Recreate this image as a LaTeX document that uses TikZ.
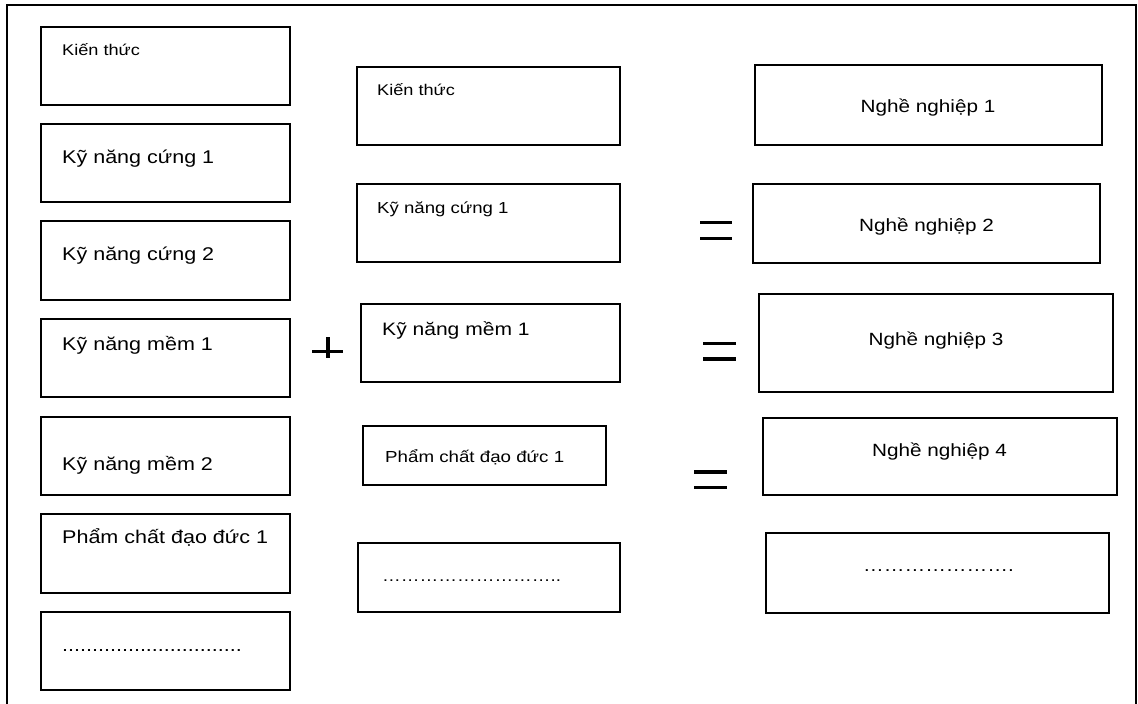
\documentclass[tikz,border=0pt]{standalone}
\usepackage{fontspec}
\newfontfamily\af[FakeStretch=1.17]{Liberation Sans}
\newcommand{\fs}[1]{\af\fontsize{#1}{#1}\selectfont}
\newcommand{\bx}[5]{\node[box, minimum width={#4-#2}, minimum height={#5-#3}] (#1) at ({(#2+#4)/2},{(#3+#5)/2}) {};}
\tikzset{
  box/.style={draw, line width=1.5pt, rectangle, inner sep=0pt, outer sep=0pt},
  lt/.style={inner sep=0pt, anchor=base west},
  ct/.style={inner sep=0pt, anchor=base},
  bar/.style={fill=black, draw=none},
}
\begin{document}
\begin{tikzpicture}[x=1pt,y=-1pt]
\useasboundingbox (0,0) rectangle (1138,704);
\clip (0,0) rectangle (1138,704);
\draw[line width=1.5pt] (7,5) rectangle (1136,712);
% left column
\bx{L1}{41}{27}{290}{105}
\bx{L2}{41}{124}{290}{202}
\bx{L3}{41}{221}{290}{300}
\bx{L4}{41}{319}{290}{397}
\bx{L5}{41}{417}{290}{495}
\bx{L6}{41}{514}{290}{593}
\bx{L7}{41}{612}{290}{690}
\node[lt, font=\fs{15.5}] (L1t) at (62,55) {Kiến thức};
\node[lt, font=\fs{18.4}] (L2t) at (62,163) {Kỹ năng cứng 1};
\node[lt, font=\fs{18.4}] (L3t) at (62,260) {Kỹ năng cứng 2};
\node[lt, font=\fs{18.4}] (L4t) at (62,350) {Kỹ năng mềm 1};
\node[lt, font=\fs{18.4}] (L5t) at (62,470) {Kỹ năng mềm 2};
\node[lt, font=\fs{18.4}] (L6t) at (62,543) {Phẩm chất đạo đức 1};
\node[lt, font=\fs{18.4}] (L7t) at (62,651.5) {..............................};
% middle column
\bx{M1}{357}{67}{620}{145}
\bx{M2}{357}{184}{620}{262}
\bx{M3}{361}{304}{620}{382}
\bx{M4}{363}{426}{606}{485}
\bx{M5}{358}{543}{620}{612}
\node[lt, font=\fs{15.5}] (M1t) at (377,95) {Kiến thức};
\node[lt, font=\fs{15.9}] (M2t) at (377,213) {Kỹ năng cứng 1};
\node[lt, font=\fs{18}] (M3t) at (382,335) {Kỹ năng mềm 1};
\node[lt, font=\fs{16}] (M4t) at (385,462) {Phẩm chất đạo đức 1};
\node[lt, font=\fs{16}] (M5t) at (382,581) {………………………..};
% right column
\bx{R1}{755}{65}{1102}{145}
\bx{R2}{753}{184}{1100}{263}
\bx{R3}{759}{294}{1113}{392}
\bx{R4}{763}{418}{1117}{495}
\bx{R5}{766}{533}{1109}{613}
\node[ct, font=\fs{17.7}] (R1t) at (928,112) {Nghề nghiệp 1};
\node[ct, font=\fs{17.7}] (R2t) at (926.5,231) {Nghề nghiệp 2};
\node[ct, font=\fs{17.7}] (R3t) at (936,345) {Nghề nghiệp 3};
\node[ct, font=\fs{17.7}] (R4t) at (939.5,456) {Nghề nghiệp 4};
\node[ct, font=\fs{17.7}] (R5t) at (938.5,571.5) {………………….};
% plus sign
\fill[bar] (312,349.5) rectangle (343,353);
\fill[bar] (326,337) rectangle (329.5,358);
% equals signs
\fill[bar] (700,220.5) rectangle (732,224);
\fill[bar] (700,236.5) rectangle (732,240);
\fill[bar] (703,341.5) rectangle (736,345);
\fill[bar] (703,357) rectangle (736,360.5);
\fill[bar] (694,470) rectangle (727,473.5);
\fill[bar] (694,485.5) rectangle (727,489);
\end{tikzpicture}
\end{document}
